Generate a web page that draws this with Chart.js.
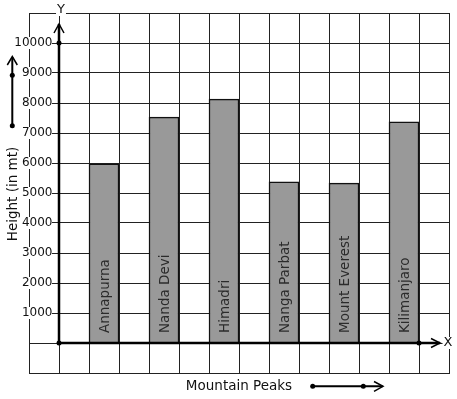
<!DOCTYPE html>
<html>
<head>
<meta charset="utf-8">
<script src="https://cdn.jsdelivr.net/npm/chart.js@4.4.1/dist/chart.umd.min.js"></script>
<style>
  html, body { margin: 0; padding: 0; background: #fff; }
  #chart { display: block; }
</style>
</head>
<body>
<canvas id="chart" width="457" height="399"></canvas>
<script>
const peaks = ['Annapurna', 'Nanda Devi', 'Himadri', 'Nanga Parbat', 'Mount Everest', 'Kilimanjaro'];
const heights = [5970, 7530, 8130, 5370, 5330, 7370];
// bars sit in every other grid cell, starting one cell right of the Y axis
const slots = [1.5, 3.5, 5.5, 7.5, 9.5, 11.5];
const yTicks = [1000, 2000, 3000, 4000, 5000, 6000, 7000, 8000, 9000, 10000];
const xTitle = 'Mountain Peaks';
const yTitle = 'Height (in mt)';

const FONT = '"DejaVu Sans", sans-serif';

function dot(ctx, x, y) {
  ctx.beginPath();
  ctx.arc(x, y, 2.5, 0, Math.PI * 2);
  ctx.fill();
}

function chevron(ctx, ax, ay, tx, ty, bx, by) {
  ctx.beginPath();
  ctx.moveTo(ax, ay);
  ctx.lineTo(tx, ty);
  ctx.lineTo(bx, by);
  ctx.stroke();
}

function boxedText(ctx, text, x, y) {
  const w = ctx.measureText(text).width;
  ctx.fillStyle = '#fff';
  ctx.fillRect(x - w / 2 - 1, y - 6, w + 2, 12);
  ctx.fillStyle = '#111';
  ctx.fillText(text, x, y);
}

const sketch = {
  id: 'sketch',
  afterDatasetsDraw(chart) {
    const { ctx, chartArea: area, scales: { x, y } } = chart;
    const x0 = x.getPixelForValue(0);
    const y0 = y.getPixelForValue(0);
    ctx.save();

    // peak names written up the bars
    ctx.font = '13.5px ' + FONT;
    ctx.fillStyle = '#2b2b2b';
    ctx.textAlign = 'left';
    ctx.textBaseline = 'alphabetic';
    chart.getDatasetMeta(0).data.forEach((bar, i) => {
      ctx.save();
      ctx.translate(bar.x + 5, y0 - 10);
      ctx.rotate(-Math.PI / 2);
      ctx.fillText(peaks[i], 0, 0);
      ctx.restore();
    });

    // y tick labels on white patches over the grid
    ctx.font = '12px ' + FONT;
    ctx.textAlign = 'right';
    ctx.textBaseline = 'middle';
    yTicks.forEach(v => {
      const py = y.getPixelForValue(v);
      const s = String(v);
      const w = ctx.measureText(s).width;
      ctx.fillStyle = '#fff';
      ctx.fillRect(x0 - 7 - w, py - 6, w, 12);
      ctx.fillStyle = '#111';
      ctx.fillText(s, x0 - 6.5, py);
    });

    // thick axes with arrows
    ctx.strokeStyle = '#000';
    ctx.fillStyle = '#000';
    ctx.lineWidth = 2.5;
    ctx.beginPath();
    ctx.moveTo(x0, y0);
    ctx.lineTo(x0, area.top + 11);
    ctx.moveTo(x0, y0);
    ctx.lineTo(area.right - 9, y0);
    ctx.stroke();
    ctx.lineWidth = 1.5;
    chevron(ctx, x0 - 5, area.top + 20, x0, area.top + 11, x0 + 5, area.top + 20);
    chevron(ctx, area.right - 18, y0 - 4.5, area.right - 9, y0, area.right - 18, y0 + 4.5);
    dot(ctx, x0, y0);
    dot(ctx, x0, y.getPixelForValue(10000));
    dot(ctx, x.getPixelForValue(12), y0);

    ctx.font = '13px ' + FONT;
    ctx.textAlign = 'center';
    ctx.textBaseline = 'middle';
    boxedText(ctx, 'Y', x0 + 2, area.top - 3);
    boxedText(ctx, 'X', area.right - 1, y0);

    // axis titles
    ctx.fillStyle = '#111';
    ctx.font = '13.5px ' + FONT;
    ctx.textBaseline = 'alphabetic';
    ctx.fillText(xTitle, (area.left + area.right) / 2, area.bottom + 17);
    ctx.save();
    ctx.translate(17, (area.top + area.bottom) / 2 + 1);
    ctx.rotate(-Math.PI / 2);
    ctx.fillText(yTitle, 0, 0);
    ctx.restore();

    // direction arrows beside the titles
    ctx.strokeStyle = '#000';
    ctx.fillStyle = '#000';
    ctx.lineWidth = 2;
    ctx.beginPath();
    ctx.moveTo(12.3, 125.7);
    ctx.lineTo(12.3, 57);
    ctx.moveTo(312.7, 386.3);
    ctx.lineTo(382.5, 386.3);
    ctx.stroke();
    ctx.lineWidth = 1.5;
    chevron(ctx, 7.3, 65, 12.3, 56.5, 17.3, 65);
    chevron(ctx, 374, 381.5, 383, 386.3, 374, 391.3);
    dot(ctx, 12.3, 125.7);
    dot(ctx, 12.3, 75.3);
    dot(ctx, 312.7, 386.3);
    dot(ctx, 363.3, 386.3);

    ctx.restore();
  }
};

new Chart(document.getElementById('chart'), {
  type: 'bar',
  data: {
    datasets: [{
      data: slots.map((s, i) => ({ x: s, y: heights[i] })),
      backgroundColor: '#999999',
      borderColor: '#111111',
      borderWidth: { top: 1.5, left: 1.5, right: 1.5, bottom: 0 },
      borderSkipped: 'bottom',
      barPercentage: 1,
      categoryPercentage: 1
    }]
  },
  options: {
    responsive: false,
    animation: false,
    layout: { padding: { left: 29, top: 13, right: 8, bottom: 26 } },
    plugins: {
      legend: { display: false },
      tooltip: { enabled: false }
    },
    scales: {
      x: {
        type: 'linear',
        min: -1,
        max: 13,
        offset: false,
        ticks: { stepSize: 1, display: false },
        grid: { offset: false, color: '#222', lineWidth: 1, drawTicks: false },
        border: { color: '#222', width: 1 }
      },
      y: {
        min: -1000,
        max: 11000,
        ticks: { stepSize: 1000, display: false },
        grid: { color: '#222', lineWidth: 1, drawTicks: false },
        border: { color: '#222', width: 1 }
      }
    }
  },
  plugins: [sketch]
});
</script>
</body>
</html>
